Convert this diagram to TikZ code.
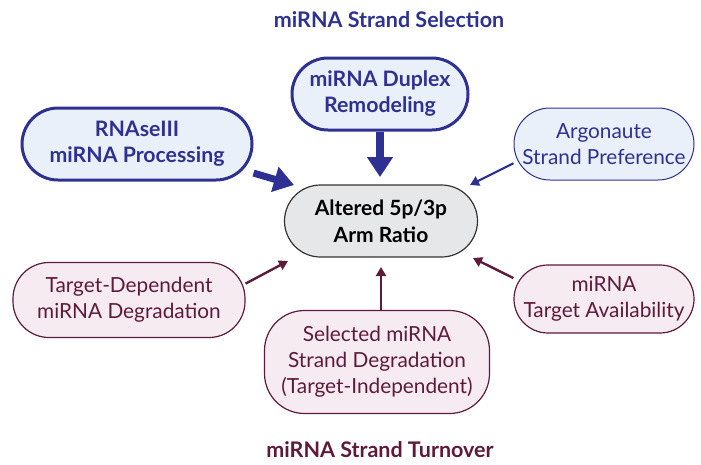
\documentclass[tikz,border=0pt]{standalone}
\usepackage{fontspec}
\setmainfont{Lato}
\usetikzlibrary{arrows.meta,calc}
\definecolor{sblue}{HTML}{2E3192}
\definecolor{sbluefill}{HTML}{EAF0FA}
\definecolor{smar}{HTML}{5E1A3A}
\definecolor{smarfill}{HTML}{F7EBF2}
\definecolor{sgray}{HTML}{E6E7E8}
\tikzset{
  box/.style={rounded corners=36pt, align=center, inner sep=0pt, font=\fontsize{20.8}{26}\selectfont},
  strongblue/.style={box, draw=sblue, fill=sbluefill, line width=3pt, text=sblue, font=\fontsize{21.3}{26}\selectfont\bfseries},
  weakblue/.style={box, draw=sblue, fill=sbluefill, line width=1pt, text=sblue},
  maroonbox/.style={box, draw=smar, fill=smarfill, line width=1.2pt, text=smar},
  centerbox/.style={box, draw=black!80, fill=sgray, line width=1.2pt, text=black, font=\fontsize{21}{27}\selectfont\bfseries},
  bigarrow/.style={draw=sblue, line width=7pt, -{Triangle[length=20pt,width=25pt]}},
  thinblue/.style={draw=sblue, line width=2.2pt, -{Triangle[length=9pt,width=10pt]}},
  thinmar/.style={draw=smar, line width=2.4pt, -{Triangle[length=9pt,width=10pt]}},
  title/.style={font=\fontsize{21.5}{24}\selectfont\bfseries}
}
\begin{document}
\begin{tikzpicture}[x=1pt,y=-1pt]
\useasboundingbox (0,0) rectangle (701,464);
\node[title, text=sblue] (t1) at (389,20) {miRNA Strand Selection};
\node[title, text=smar] (t2) at (380,450) {miRNA Strand Turnover};

\node[strongblue, minimum width=230pt, minimum height=72pt] (rna) at (137,144) {RNAseIII\\miRNA Processing};
\node[strongblue, minimum width=176pt, minimum height=72pt] (dup) at (380,94) {miRNA Duplex\\Remodeling};
\node[weakblue, minimum width=180pt, minimum height=72pt] (arg) at (604,144) {Argonaute\\Strand Preference};
\node[centerbox, minimum width=193pt, minimum height=72pt] (alt) at (381,221) {Altered 5p/3p\\Arm Ratio};
\node[maroonbox, minimum width=232pt, minimum height=75pt] (tdd) at (129,300) {Target-Dependent\\miRNA Degradation};
\node[maroonbox, minimum width=225pt, minimum height=103pt, rounded corners=40pt] (sel) at (377,362) {Selected miRNA\\Strand Degradation\\(Target-Independent)};
\node[maroonbox, minimum width=180pt, minimum height=68pt, rounded corners=34pt] (tav) at (604,299) {miRNA\\Target Availability};

\coordinate (a1) at (294,185);
\coordinate (a2) at (380,177);
\coordinate (a3) at (470,185);
\coordinate (a4) at (288,261);
\coordinate (a5) at (381,267);
\coordinate (a6) at (473,258);

\draw[bigarrow] (rna.-14) -- (a1);
\draw[bigarrow, line width=8pt] (dup.south) -- (a2);
\draw[thinblue] (arg.192) -- (a3);
\draw[thinmar] (tdd.8) -- (a4);
\draw[thinmar] (sel.north -| a5) -- (a5);
\draw[thinmar] (tav.167) -- (a6);
\end{tikzpicture}
\end{document}
